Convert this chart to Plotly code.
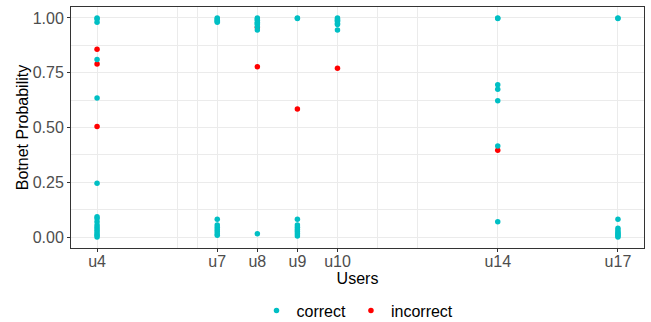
import plotly.graph_objects as go

# x positions (user numbers) and tick labels
user_pos = [4, 7, 8, 9, 10, 14, 17]
user_labels = ["u4", "u7", "u8", "u9", "u10", "u14", "u17"]

# Botnet probabilities per user, split by classification outcome
correct_u4 = [1.0, 0.995, 0.98, 0.81, 0.635, 0.245, 0.093, 0.085, 0.07, 0.055, 0.045, 0.035, 0.025, 0.015, 0.008, 0.0]
correct_u7 = [1.0, 0.995, 0.99, 0.985, 0.98, 0.081, 0.055, 0.045, 0.035, 0.025, 0.015, 0.008]
correct_u8 = [1.0, 0.995, 0.99, 0.98, 0.975, 0.97, 0.96, 0.945, 0.015]
correct_u9 = [1.0, 0.997, 0.081, 0.055, 0.045, 0.035, 0.025, 0.015, 0.005]
correct_u10 = [1.0, 0.995, 0.99, 0.985, 0.975, 0.97, 0.945]
correct_u14 = [1.0, 0.998, 0.695, 0.675, 0.622, 0.416, 0.07]
correct_u17 = [1.0, 0.997, 0.081, 0.04, 0.03, 0.022, 0.015, 0.01, 0.005, 0.0]

incorrect_u4 = [0.857, 0.79, 0.504]
incorrect_u8 = [0.956, 0.777]
incorrect_u9 = [0.585]
incorrect_u10 = [0.771]
incorrect_u14 = [0.396]

correct_by_user = [correct_u4, correct_u7, correct_u8, correct_u9, correct_u10, correct_u14, correct_u17]
incorrect_by_user = [incorrect_u4, [], incorrect_u8, incorrect_u9, incorrect_u10, incorrect_u14, []]

y_ticks = [0, 0.25, 0.5, 0.75, 1.0]
x_minor = [6, 6.5, 11, 12]
y_minor = [0.125, 0.375, 0.625, 0.875]

def flatten(groups):
    xs, ys = [], []
    for pos, vals in zip(user_pos, groups):
        xs += [pos] * len(vals)
        ys += vals
    return xs, ys

cx, cy = flatten(correct_by_user)
ix, iy = flatten(incorrect_by_user)

CYAN = "#00BFC4"
RED = "#FF0000"

fig = go.Figure()
fig.add_trace(go.Scatter(x=ix, y=iy, mode="markers", name="incorrect", legendrank=2,
                         marker=dict(color=RED, size=5.5, line=dict(width=0))))
fig.add_trace(go.Scatter(x=cx, y=cy, mode="markers", name="correct", legendrank=1,
                         marker=dict(color=CYAN, size=5.5, line=dict(width=0))))

font = "Liberation Sans, Arial, sans-serif"
fig.update_layout(
    width=651, height=322,
    margin=dict(l=71, r=7, t=7, b=74, autoexpand=False),
    paper_bgcolor="white", plot_bgcolor="white",
    font=dict(family=font, size=16, color="black"),
    showlegend=True,
    legend=dict(orientation="h", x=0.5, xanchor="center", y=-0.26, yanchor="middle",
                font=dict(size=16, color="black"), itemwidth=30, bgcolor="rgba(0,0,0,0)"),
)
fig.update_xaxes(
    range=[3.35, 17.65], tickmode="array", tickvals=user_pos, ticktext=user_labels,
    showgrid=True, gridcolor="#EBEBEB", gridwidth=1.2,
    minor=dict(tickvals=x_minor, showgrid=True, gridcolor="#EBEBEB", gridwidth=0.8, ticks=""),
    showline=True, mirror=True, linecolor="#333333", linewidth=1,
    ticks="outside", ticklen=3, tickcolor="#333333", tickwidth=1,
    tickfont=dict(size=16, color="#4D4D4D"), zeroline=False, ticklabelstandoff=-4,
    title=dict(text="Users", font=dict(size=16, color="black"), standoff=0),
)
fig.update_yaxes(
    range=[-0.05, 1.05], tickmode="array", tickvals=y_ticks, tickformat=".2f",
    showgrid=True, gridcolor="#EBEBEB", gridwidth=1.2,
    minor=dict(tickvals=y_minor, showgrid=True, gridcolor="#EBEBEB", gridwidth=0.8, ticks=""),
    showline=True, mirror=True, linecolor="#333333", linewidth=1,
    ticks="outside", ticklen=3, tickcolor="#333333", tickwidth=1,
    tickfont=dict(size=16, color="#4D4D4D"), zeroline=False,
    title=dict(text="Botnet Probability", font=dict(size=16, color="black"), standoff=0),
)

fig.write_html("out.html")
